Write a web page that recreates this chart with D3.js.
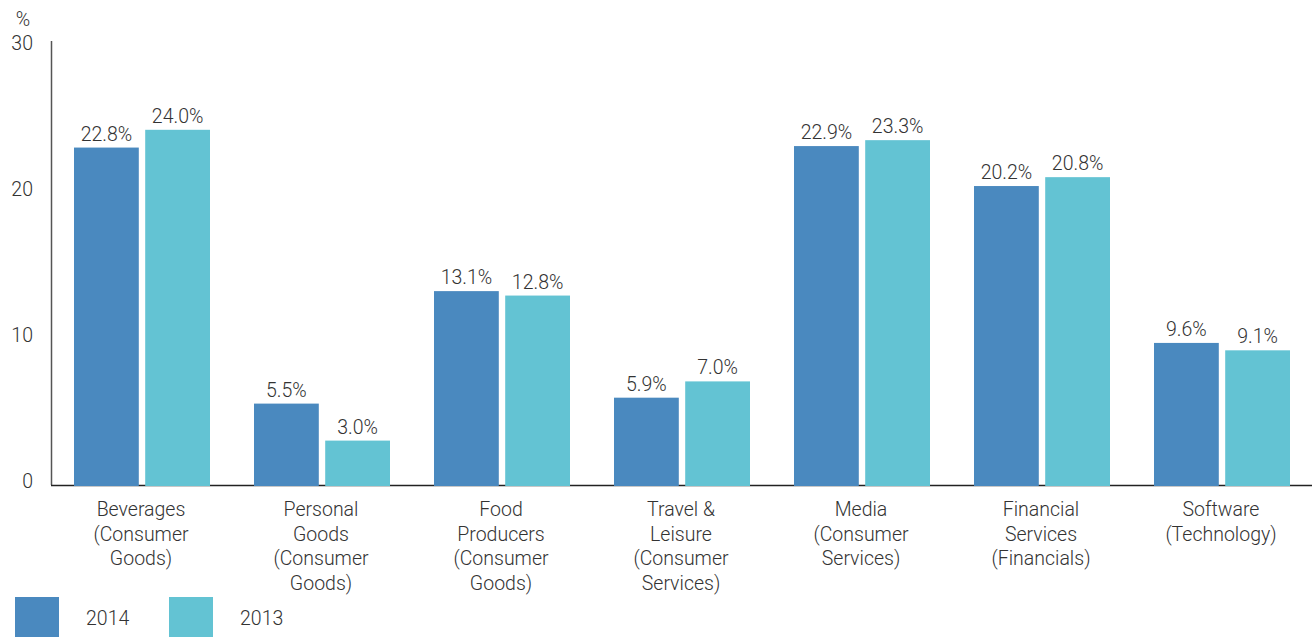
<html>
<head>
<meta charset="utf-8">
<script src="https://d3js.org/d3.v7.min.js"></script>
<style>
  body { margin: 0; background: #fff; }
  text { font-family: "Roboto", "Liberation Sans", sans-serif; font-weight: 300; fill: #333; }
</style>
</head>
<body>
<div id="chart"></div>
<script>
// chart data
var categories = [
  "Beverages\n(Consumer\nGoods)",
  "Personal\nGoods\n(Consumer\nGoods)",
  "Food\nProducers\n(Consumer\nGoods)",
  "Travel &\nLeisure\n(Consumer\nServices)",
  "Media\n(Consumer\nServices)",
  "Financial\nServices\n(Financials)",
  "Software\n(Technology)"
];
var seriesNames = ["2014", "2013"];
var values2014 = [22.8, 5.5, 13.1, 5.9, 22.9, 20.2, 9.6];
var values2013 = [24.0, 3.0, 12.8, 7.0, 23.3, 20.8, 9.1];
var yTicks = [0, 10, 20, 30];
var colors = ["#4a89bf", "#63c3d3"];

var width = 1312, height = 637;
var fontSize = "19.5px";
var svg = d3.select("#chart").append("svg")
  .attr("width", width).attr("height", height);

var x0 = d3.scaleBand().domain(d3.range(categories.length)).range([52, 1312]);
var x1 = d3.scaleBand().domain(seriesNames).range([22, 158]).paddingInner(0.09);
var y = d3.scaleLinear().domain([0, 30]).range([485, 41]);
// tick labels sit a little off the gridline values in the original
var yLabel = d3.scaleLinear().domain([0, 30]).range([481, 43]);

var rows = categories.map(function (c, i) {
  return { i: i, vals: [values2014[i], values2013[i]] };
});

// y axis
svg.append("line")
  .attr("x1", 51.5).attr("x2", 51.5)
  .attr("y1", y(30)).attr("y2", y(0))
  .attr("stroke", "#555").attr("stroke-width", 1.5);

svg.selectAll(".ytick")
  .data(yTicks)
  .enter().append("text")
    .attr("x", 33)
    .attr("y", function (d) { return yLabel(d); })
    .attr("dy", "0.35em")
    .attr("text-anchor", "end")
    .style("font-size", fontSize)
    .text(function (d) { return d; });

svg.append("text")
  .attr("x", 23).attr("y", 19).attr("dy", "0.35em")
  .attr("text-anchor", "middle")
  .style("font-size", fontSize)
  .text("%");

// baseline
svg.append("line")
  .attr("x1", 51).attr("x2", 1312)
  .attr("y1", 485.5).attr("y2", 485.5)
  .attr("stroke", "#222").attr("stroke-width", 1.5);

// bars
var groups = svg.selectAll(".group")
  .data(rows)
  .enter().append("g")
    .attr("transform", function (d) { return "translate(" + x0(d.i) + ",0)"; });

groups.selectAll("rect")
  .data(function (d) { return d.vals.map(function (v, k) { return { s: seriesNames[k], v: v, k: k }; }); })
  .enter().append("rect")
    .attr("x", function (d) { return x1(d.s); })
    .attr("width", x1.bandwidth())
    .attr("y", function (d) { return y(d.v); })
    .attr("height", function (d) { return y(0) - y(d.v) + 1; })
    .attr("fill", function (d) { return colors[d.k]; });

groups.selectAll(".val")
  .data(function (d) { return d.vals.map(function (v, k) { return { s: seriesNames[k], v: v }; }); })
  .enter().append("text")
    .attr("x", function (d) { return x1(d.s) + x1.bandwidth() / 2; })
    .attr("y", function (d) { return y(d.v) - 7; })
    .attr("text-anchor", "middle")
    .style("font-size", fontSize)
    .text(function (d) { return d.v.toFixed(1) + "%"; });

// category labels
groups.append("text")
  .attr("text-anchor", "middle")
  .style("font-size", fontSize)
  .each(function (d) {
    var t = d3.select(this);
    categories[d.i].split("\n").forEach(function (line, j) {
      t.append("tspan")
        .attr("x", x0.bandwidth() / 2 - 1)
        .attr("y", 516 + j * 24.5)
        .text(line);
    });
  });

// legend
var legend = svg.selectAll(".legend")
  .data(seriesNames)
  .enter().append("g")
    .attr("transform", function (d, i) { return "translate(" + (15 + i * 154) + ",597)"; });

legend.append("rect")
  .attr("width", 44).attr("height", 45)
  .attr("fill", function (d, i) { return colors[i]; });

legend.append("text")
  .attr("x", 71).attr("y", 21).attr("dy", "0.35em")
  .style("font-size", fontSize)
  .text(function (d) { return d; });
</script>
</body>
</html>
